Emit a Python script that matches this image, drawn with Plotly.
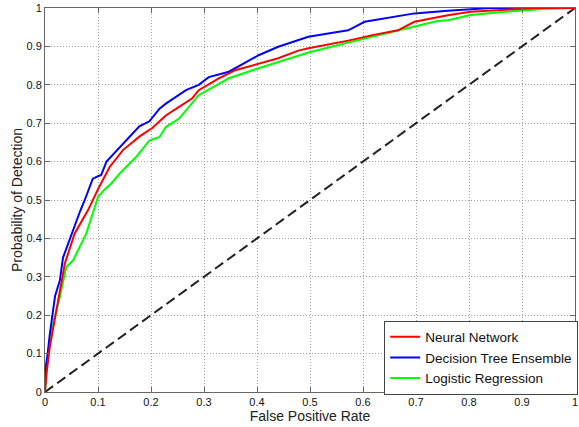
import plotly.graph_objects as go

# ROC data
nn_x = [0, 0.003, 0.009, 0.019, 0.028, 0.0375, 0.056, 0.081, 0.1, 0.106, 0.122, 0.147, 0.178, 0.203, 0.228, 0.25, 0.278, 0.29, 0.328, 0.359, 0.403, 0.44, 0.478, 0.497, 0.572, 0.62, 0.666, 0.697, 0.76, 0.803, 0.86, 0.904, 0.93, 1.0]
nn_y = [0, 0.05, 0.117, 0.195, 0.265, 0.335, 0.413, 0.473, 0.528, 0.543, 0.586, 0.63, 0.665, 0.688, 0.72, 0.74, 0.765, 0.786, 0.817, 0.838, 0.855, 0.869, 0.889, 0.895, 0.915, 0.93, 0.942, 0.964, 0.981, 0.99, 0.995, 0.998, 1.0, 1.0]

dte_x = [0, 0, 0.005, 0.009, 0.019, 0.028, 0.034, 0.047, 0.066, 0.075, 0.09, 0.097, 0.106, 0.116, 0.141, 0.16, 0.178, 0.197, 0.216, 0.228, 0.266, 0.29, 0.309, 0.347, 0.375, 0.403, 0.44, 0.478, 0.497, 0.54, 0.572, 0.603, 0.65, 0.697, 0.76, 0.80, 0.84, 0.9, 1.0]
dte_y = [0, 0.05, 0.10, 0.15, 0.25, 0.29, 0.35, 0.40, 0.47, 0.50, 0.555, 0.56, 0.565, 0.60, 0.638, 0.665, 0.692, 0.705, 0.738, 0.751, 0.786, 0.80, 0.82, 0.834, 0.855, 0.877, 0.899, 0.916, 0.925, 0.935, 0.942, 0.964, 0.975, 0.986, 0.993, 0.997, 1.0, 1.0, 1.0]

lr_x = [0, 0.003, 0.012, 0.028, 0.04, 0.053, 0.078, 0.1, 0.112, 0.125, 0.141, 0.172, 0.197, 0.216, 0.228, 0.253, 0.29, 0.347, 0.403, 0.497, 0.572, 0.62, 0.666, 0.74, 0.76, 0.803, 0.866, 0.947, 1.0]
lr_y = [0, 0.074, 0.16, 0.248, 0.325, 0.343, 0.413, 0.508, 0.527, 0.543, 0.569, 0.612, 0.655, 0.664, 0.69, 0.712, 0.773, 0.817, 0.843, 0.884, 0.91, 0.926, 0.942, 0.966, 0.968, 0.982, 0.99, 0.998, 1.0]

chance_x = [0, 1]
chance_y = [0, 1]

tick_vals = [0, 0.1, 0.2, 0.3, 0.4, 0.5, 0.6, 0.7, 0.8, 0.9, 1]
tick_text = ["0", "0.1", "0.2", "0.3", "0.4", "0.5", "0.6", "0.7", "0.8", "0.9", "1"]

fig = go.Figure()
fig.add_trace(go.Scatter(x=chance_x, y=chance_y, mode="lines", showlegend=False,
                         line=dict(color="#222222", width=2, dash="10px,5px")))
fig.add_trace(go.Scatter(x=lr_x, y=lr_y, mode="lines", name="Logistic Regression",
                         line=dict(color="#00ff00", width=2), legendrank=3))
fig.add_trace(go.Scatter(x=dte_x, y=dte_y, mode="lines", name="Decision Tree Ensemble",
                         line=dict(color="#0000ff", width=2), legendrank=2))
fig.add_trace(go.Scatter(x=nn_x, y=nn_y, mode="lines", name="Neural Network",
                         line=dict(color="#ff0000", width=2), legendrank=1))

axis_common = dict(
    range=[0, 1], tickvals=tick_vals, ticktext=tick_text,
    showgrid=True, gridcolor="#a0a0a0", griddash="1px,2px", gridwidth=1,
    showline=True, linecolor="#666666", linewidth=1, mirror="ticks",
    ticks="inside", ticklen=5, tickcolor="#666666",
    zeroline=False, automargin=False,
    tickfont=dict(family="Liberation Sans, Arial", size=11, color="#111111"),
)

fig.update_layout(
    width=579, height=427,
    margin=dict(l=45, r=1, t=8, b=35),
    paper_bgcolor="white", plot_bgcolor="white",
    font=dict(family="Liberation Sans, Arial", color="#222222"),
    xaxis=dict(axis_common, title=dict(text="False Positive Rate", font=dict(size=14), standoff=3)),
    yaxis=dict(axis_common, title=dict(text="Probability of Detection", font=dict(size=14), standoff=0)),
    legend=dict(x=0.64, y=0.186, xanchor="left", yanchor="top",
                bgcolor="white", bordercolor="#444444", borderwidth=1,
                font=dict(size=13.5, color="#111111"), tracegroupgap=0,
                itemwidth=30),
)

fig.write_html("out.html", config={"displayModeBar": False},
               post_script="document.body.style.margin='0';")
